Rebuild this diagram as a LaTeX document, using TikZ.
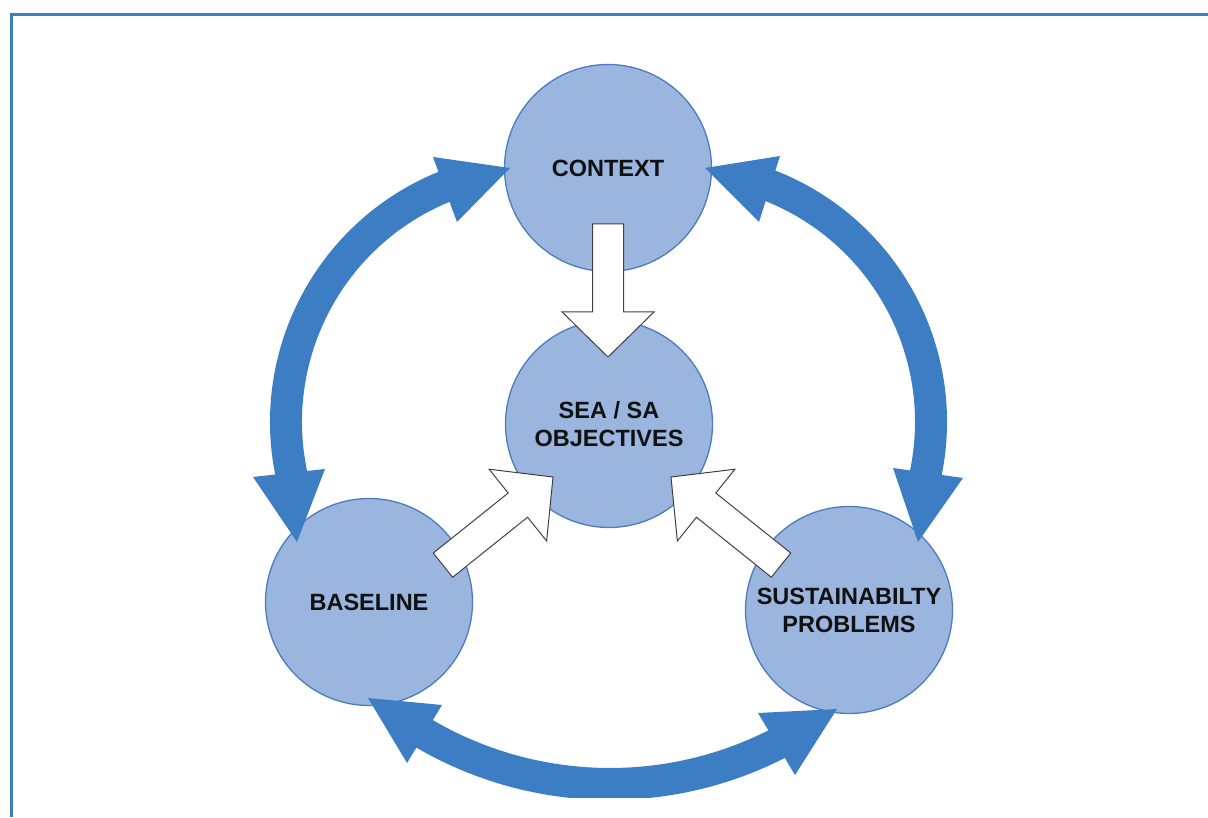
\documentclass[tikz,border=0pt]{standalone}
\usepackage{fontspec}
\setmainfont{Liberation Sans}
\definecolor{arrowblue}{RGB}{61,125,196}
\definecolor{circfill}{RGB}{154,181,222}
\definecolor{circline}{RGB}{76,124,190}
\definecolor{txt}{RGB}{17,17,17}
\tikzset{
  topic/.style={circle, draw=circline, line width=1.3pt, fill=circfill, minimum size=207pt, inner sep=0pt, align=center, text=txt, font=\fontsize{23.5}{28}\selectfont\bfseries},
  band/.style={draw=arrowblue, line width=32pt, line cap=butt},
  bandhead/.style={fill=arrowblue, draw=none},
  blockarrow/.style={fill=white, draw=black!75, line width=1pt, line join=miter},
  frameline/.style={draw=arrowblue, line width=3pt}
}
\begin{document}
\begin{tikzpicture}[x=1pt,y=1pt]
\useasboundingbox (0,0) rectangle (1208,817);
% frame
\draw[frameline] (11,0) -- (11,802) -- (1208,802);

% circles
\node[topic] (ctx) at (608,649) {CONTEXT};
\node[topic] (obj) at (609,393) {SEA / SA\\OBJECTIVES};
\node[topic] (base) at (369,215) {BASELINE};
\node[topic] (sust) at (849,207) {SUSTAINABILTY\\PROBLEMS};

% white block arrows (tip at origin, pointing along +x)
\coordinate (dTip) at (608,460);
\coordinate (lTip) at (553,340);
\coordinate (rTip) at (671,340);
\draw[blockarrow, shift={(dTip)}, rotate=-90]
  (0,0) -- (-45,46) -- (-45,15.5) -- (-133,15.5) -- (-133,-15.5) -- (-45,-15.5) -- (-45,-46) -- cycle;
\draw[blockarrow, shift={(lTip)}, rotate=38.7]
  (0,0) -- (-45,46) -- (-45,15.5) -- (-141,15.5) -- (-141,-15.5) -- (-45,-15.5) -- (-45,-46) -- cycle;
\draw[blockarrow, shift={(rTip)}, rotate=141.3]
  (0,0) -- (-45,46) -- (-45,15.5) -- (-141,15.5) -- (-141,-15.5) -- (-45,-15.5) -- (-45,-46) -- cycle;

% thick curved double arrows
\coordinate (lc) at (540,395);
\coordinate (rc) at (677,395);
\coordinate (bc) at (610,401);
\begin{scope}
\clip (0,20) rectangle (1208,817);
\draw[band] (lc) ++(193.5:254pt) arc[start angle=193.5, end angle=110.5, radius=254pt];
\draw[band] (rc) ++(-13.5:254pt) arc[start angle=-13.5, end angle=69.5, radius=254pt];
\draw[band] (bc) ++(238.5:368pt) arc[start angle=238.5, end angle=298, radius=368pt];
\end{scope}

% arrow heads
\coordinate (ltTip) at (510,649);
\coordinate (lbTip) at (297,275);
\coordinate (rtTip) at (705,649);
\coordinate (rbTip) at (918,275);
\coordinate (blTip) at (368,119);
\coordinate (brTip) at (837,108);
\fill[bandhead] (ltTip) -- (433,660) -- (457,595) -- cycle;
\fill[bandhead] (lbTip) -- (253,340) -- (325,348) -- cycle;
\fill[bandhead] (rtTip) -- (780,661) -- (759,595) -- cycle;
\fill[bandhead] (rbTip) -- (893,349) -- (963,339) -- cycle;
\fill[bandhead] (blTip) -- (442,112) -- (407,54) -- cycle;
\fill[bandhead] (brTip) -- (758,104) -- (795,42) -- cycle;
\end{tikzpicture}
\end{document}
